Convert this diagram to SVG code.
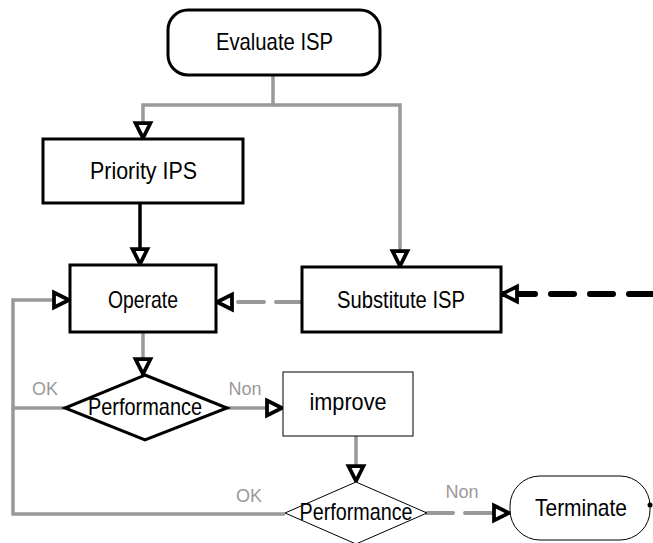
<svg xmlns="http://www.w3.org/2000/svg" width="653" height="543" viewBox="0 0 653 543">
<defs>
<style>
.box{fill:#fff;stroke:#000;stroke-width:3}
.thin{fill:#fff;stroke:#000;stroke-width:1}
.t{font-family:"Liberation Sans",Arial,sans-serif;font-size:24px;fill:#000;text-anchor:middle}
.lab{font-family:"Liberation Sans",Arial,sans-serif;font-size:18px;fill:#999;text-anchor:middle}
.g{fill:none;stroke:#999;stroke-width:3.5}
.gd{fill:none;stroke:#999;stroke-width:4;stroke-dasharray:26 12;stroke-linecap:round}
.b{fill:none;stroke:#000;stroke-width:3.5}
.bd{fill:none;stroke:#000;stroke-width:6;stroke-dasharray:33 16 23 16 23 16 40;stroke-linecap:round}
</style>
<marker id="arr" markerUnits="userSpaceOnUse" markerWidth="20" markerHeight="20" viewBox="-2 -2 16 16" refX="12" refY="6" orient="auto" overflow="visible">
<path d="M0,0 L12,6 L0,12 Z" fill="#fff" stroke="#000" stroke-width="3" stroke-dasharray="none" stroke-linejoin="miter"/>
</marker>
<marker id="arrs" markerUnits="userSpaceOnUse" markerWidth="20" markerHeight="20" viewBox="-2 -2 16 16" refX="12" refY="6" orient="auto-start-reverse" overflow="visible">
<path d="M0,0 L12,6 L0,12 Z" fill="#fff" stroke="#000" stroke-width="3" stroke-dasharray="none" stroke-linejoin="miter"/>
</marker>
</defs>
<g id="connectors">
<path class="g" d="M273,75 V105 H143 V138" marker-end="url(#arr)"/>
<path class="g" d="M273,105 H400 V266" marker-end="url(#arr)"/>
<path class="b" d="M140,203 V264" marker-end="url(#arr)"/>
<path class="gd" d="M302,302 H217" marker-end="url(#arr)"/>
<path class="bd" d="M502,294 H670" marker-start="url(#arrs)"/>
<path class="g" d="M143,332 V374" marker-end="url(#arr)"/>
<path class="g" d="M227,408 H282" marker-end="url(#arr)"/>
<path class="g" d="M65,408 H13 V300 H69" marker-end="url(#arr)"/>
<path class="g" d="M356,436 V481" marker-end="url(#arr)"/>
<path class="g" d="M285,514 H13 V408"/>
<path class="gd" d="M427,513 H509" marker-end="url(#arr)"/>
<text class="lab" x="45" y="395">OK</text>
<text class="lab" x="245" y="395">Non</text>
<text class="lab" x="249" y="502">OK</text>
<text class="lab" x="462" y="498">Non</text>
</g>
<g id="evaluate">
<rect class="box" x="168" y="10" width="212" height="65" rx="20"/>
<text class="t" x="274.5" y="50" textLength="117" lengthAdjust="spacingAndGlyphs">Evaluate ISP</text>
</g>
<g id="priority">
<rect class="box" x="43" y="139" width="200" height="64"/>
<text class="t" x="143.5" y="179" textLength="107" lengthAdjust="spacingAndGlyphs">Priority IPS</text>
</g>
<g id="operate">
<rect class="box" x="70" y="265" width="146" height="67"/>
<text class="t" x="143" y="308" textLength="70" lengthAdjust="spacingAndGlyphs">Operate</text>
</g>
<g id="substitute">
<rect class="box" x="302" y="267" width="199" height="65"/>
<text class="t" x="401" y="308" textLength="128" lengthAdjust="spacingAndGlyphs">Substitute ISP</text>
</g>
<g id="performance1">
<polygon class="box" points="145,375 227,408 145,440 65,408" stroke-width="3.5"/>
<text class="t" x="145" y="415" textLength="114" lengthAdjust="spacingAndGlyphs">Performance</text>
</g>
<g id="improve">
<rect class="thin" x="283" y="372" width="130" height="64"/>
<text class="t" x="348" y="410" textLength="77" lengthAdjust="spacingAndGlyphs">improve</text>
</g>
<g id="performance2">
<polygon class="thin" points="356,482 427,513 356,544 285,513"/>
<text class="t" x="356" y="520" textLength="113" lengthAdjust="spacingAndGlyphs">Performance</text>
</g>
<g id="terminate">
<rect class="thin" x="510" y="476" width="140" height="64" rx="30"/>
<text class="t" x="581" y="516" textLength="92" lengthAdjust="spacingAndGlyphs">Terminate</text>
<circle cx="650" cy="505" r="2.5" fill="#000"/>
</g>
</svg>
